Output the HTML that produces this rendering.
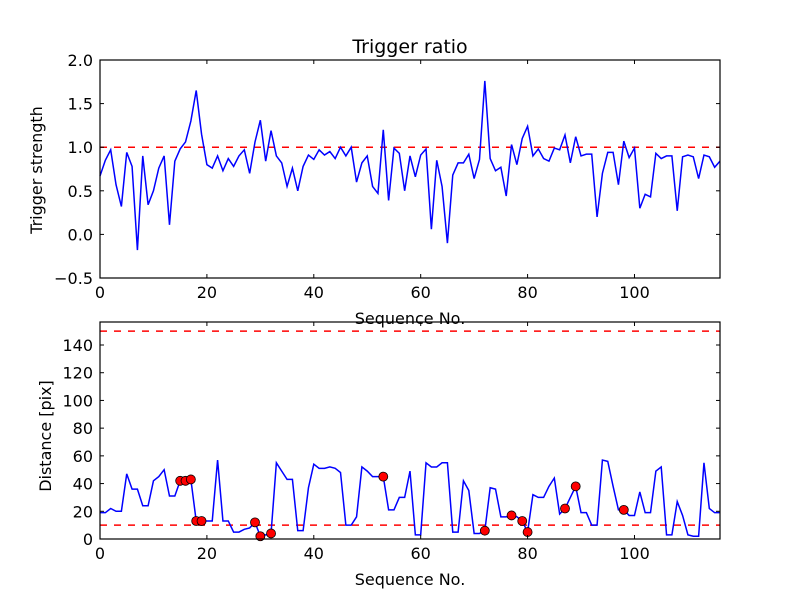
<!DOCTYPE html>
<html><head><meta charset="utf-8"><style>
body{margin:0;background:#fff;}
svg text{font-family:"DejaVu Sans","Liberation Sans",sans-serif;}
</style></head><body>
<svg id="c" width="800" height="600" xmlns="http://www.w3.org/2000/svg"></svg>
<script>
const ratio=[0.67,0.85,0.97,0.57,0.32,0.94,0.78,-0.18,0.9,0.34,0.5,0.76,0.9,0.11,0.84,0.98,1.06,1.3,1.65,1.15,0.8,0.76,0.9,0.73,0.87,0.78,0.9,0.97,0.7,1.06,1.31,0.84,1.19,0.9,0.82,0.55,0.76,0.5,0.78,0.91,0.86,0.97,0.91,0.95,0.87,1.0,0.9,1.0,0.6,0.82,0.9,0.55,0.47,1.2,0.39,0.99,0.93,0.5,0.9,0.66,0.91,0.98,0.06,0.85,0.55,-0.1,0.68,0.82,0.82,0.92,0.64,0.86,1.76,0.87,0.73,0.77,0.44,1.03,0.8,1.1,1.24,0.9,0.98,0.87,0.84,0.99,0.97,1.14,0.82,1.12,0.9,0.92,0.92,0.2,0.7,0.94,0.94,0.57,1.07,0.88,0.99,0.3,0.46,0.43,0.93,0.87,0.9,0.9,0.27,0.89,0.91,0.89,0.64,0.91,0.89,0.77,0.84];
const dist=[19,19,22,20,20,47,36,36,24,24,42,45,50,31,31,42,42,43,13,13,13,13,57,13,13,5,5,7,8,12,2,3,4,55,49,43,43,6,6,37,54,51,51,52,51,48,10,10,16,52,49,45,45,45,21,21,30,30,49,3,3,55,52,52,55,55,5,5,42,35,4,4,6,37,36,16,16,17,16,13,5,32,30,30,38,44,18,22,30,38,19,19,10,10,57,56,38,21,21,17,17,34,19,19,49,52,3,3,27,17,3,2,2,55,22,19,19];
const dotIdx=[15,16,17,18,19,29,30,32,53,72,77,79,80,87,89,98];
const topTicks=[-0.5,0.0,0.5,1.0,1.5,2.0];
const botTicks=[0,20,40,60,80,100,120,140];
const xTicks=[0,20,40,60,80,100];
const NS="http://www.w3.org/2000/svg";
const svg=document.getElementById('c');
function el(t,a,p){const e=document.createElementNS(NS,t);for(const k in a)e.setAttribute(k,a[k]);(p||svg).appendChild(e);return e;}
const L=100,R=720;
const xs=v=>L+v*(R-L)/116;
const T1=60,B1=278,ys1=v=>B1-(v+0.5)*(B1-T1)/2.5;
const T2=322,B2=539,ys2=v=>B2-v*(B2-T2)/156.6;
function axes(T,B,ys,yt,fmt,name){
  const g=el('g',{});
  
  
  xTicks.forEach(t=>{const x=xs(t);el('line',{x1:x,y1:B,x2:x,y2:B-4,stroke:'#000'},g);el('line',{x1:x,y1:T,x2:x,y2:T+4,stroke:'#000'},g);
    const tx=el('text',{x:x,y:B+20,'text-anchor':'middle','font-size':16},g);tx.textContent=t;
    
    });
  yt.forEach(t=>{const y=ys(t);el('line',{x1:L,y1:y,x2:L+4,y2:y,stroke:'#000'},g);el('line',{x1:R,y1:y,x2:R-4,y2:y,stroke:'#000'},g);
    const tx=el('text',{x:L-7,y:y+6,'text-anchor':'end','font-size':16},g);tx.textContent=fmt(t);
    
    });
}
function frame(T,B){el('rect',{x:L,y:T,width:R-L,height:B-T,fill:'none',stroke:'#000','stroke-width':1.2});}
function line(data,ys,name){
  const p=el('polyline',{points:data.map((v,i)=>xs(i)+','+ys(v)).join(' '),fill:'none',stroke:'#0000ff','stroke-width':1.5});
  
  
}
function hdash(y,name){const l=el('line',{x1:L,y1:y,x2:R,y2:y,stroke:'#ff0000','stroke-dasharray':'7,7','stroke-width':1.5});
  
  }
hdash(ys1(1.0),'threshold-line');
line(ratio,ys1,'trigger-ratio-line');
frame(T1,B1);
axes(T1,B1,ys1,topTicks,t=>t.toFixed(1).replace('-','\u2212'),'top-axes');
hdash(ys2(150),'upper-limit-line');
hdash(ys2(10),'lower-limit-line');
line(dist,ys2,'distance-line');
dotIdx.forEach(i=>{const c=el('circle',{cx:xs(i),cy:ys2(dist[i]),r:4.5,fill:'#ff0000',stroke:'#000','stroke-width':0.8});
  
  });
frame(T2,B2);
axes(T2,B2,ys2,botTicks,t=>t,'bottom-axes');
function txt(s,a,name){const t=el('text',a);t.textContent=s;
  
  }
txt('Trigger ratio',{x:410,y:53,'text-anchor':'middle','font-size':19},'top-title');
txt('Sequence No.',{x:410,y:324,'text-anchor':'middle','font-size':16},'top-x-axis-title');
txt('Sequence No.',{x:410,y:585,'text-anchor':'middle','font-size':16},'bottom-x-axis-title');
txt('Trigger strength',{x:42,y:170,'text-anchor':'middle','font-size':16,transform:'rotate(-90 42 170)'},'top-y-axis-title');
txt('Distance [pix]',{x:51,y:436,'text-anchor':'middle','font-size':16,transform:'rotate(-90 51 436)'},'bottom-y-axis-title');
</script>
</body></html>
